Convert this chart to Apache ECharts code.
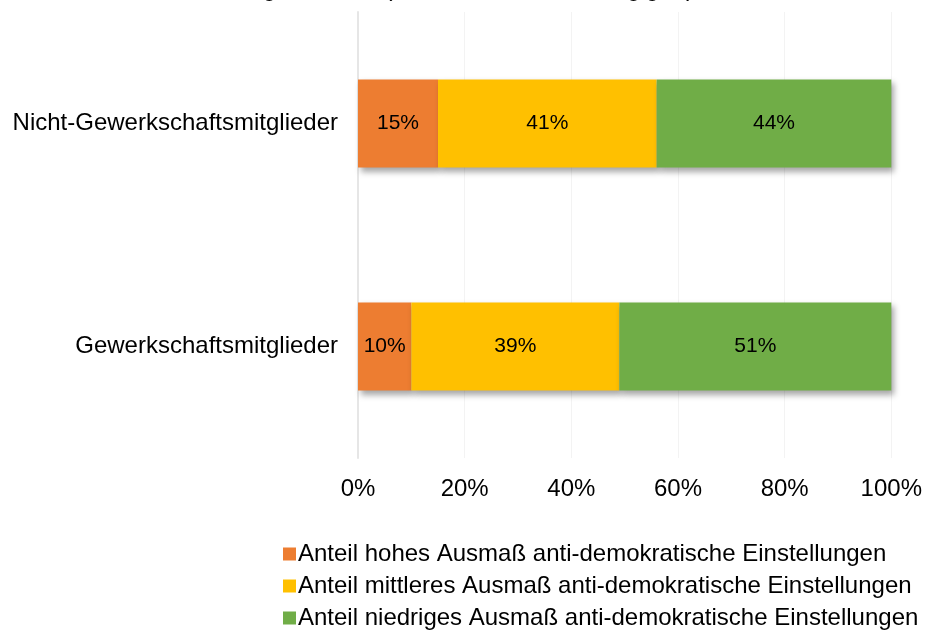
<!DOCTYPE html>
<html>
<head>
<meta charset="utf-8">
<script src="https://cdn.jsdelivr.net/npm/echarts@6/dist/echarts.min.js"></script>
<style>
  html, body { margin: 0; padding: 0; background: #fff; }
  #chart { width: 925px; height: 633px; }
</style>
</head>
<body>
<div id="chart"></div>
<script>
const categories = ["Gewerkschaftsmitglieder", "Nicht-Gewerkschaftsmitglieder"];
const seriesNames = [
  "Anteil hohes Ausmaß anti-demokratische Einstellungen",
  "Anteil mittleres Ausmaß anti-demokratische Einstellungen",
  "Anteil niedriges Ausmaß anti-demokratische Einstellungen"
];
const hohes = [10, 15];
const mittleres = [39, 41];
const niedriges = [51, 44];
const colors = ["#ED7D31", "#FFC000", "#70AD47"];
const font = "Liberation Sans, Arial, sans-serif";

const chart = echarts.init(document.getElementById("chart"));

const barStyle = {
  shadowColor: "rgba(0,0,0,0.35)",
  shadowBlur: 6,
  shadowOffsetX: 3,
  shadowOffsetY: 4
};

function makeSeries(name, data, i) {
  return {
    name: name,
    type: "bar",
    stack: "total",
    data: data,
    barWidth: "39.5%",
    itemStyle: Object.assign({ color: colors[i] }, barStyle),
    label: {
      show: true,
      position: "inside",
      formatter: "{c}%",
      color: "#000",
      fontSize: 21,
      fontFamily: font
    },
    emphasis: { disabled: true }
  };
}

chart.setOption({
  animation: false,
  title: {
    // only the bottom of the title's last line is visible in the picture
    text: "Anti-demokratische Einstellungen nach Gewerkschafts-\nmitgliedschaft (in Prozent, alle Abhängigen)",
    left: "center",
    top: -58,
    textStyle: { fontSize: 24, lineHeight: 28, fontWeight: "normal", color: "#000", fontFamily: font }
  },
  grid: { left: 358, right: 32, top: 12, bottom: 175 },
  xAxis: {
    type: "value",
    min: 0,
    max: 100,
    interval: 20,
    axisLine: { show: false },
    axisTick: { show: false },
    splitLine: { lineStyle: { color: "#f3f3f3", width: 1 } },
    axisLabel: {
      formatter: "{value}%",
      color: "#000",
      fontSize: 24,
      fontFamily: font,
      margin: 19
    }
  },
  yAxis: {
    type: "category",
    data: categories,
    axisLine: { show: true, lineStyle: { color: "#e6e6e6", width: 2 } },
    axisTick: { show: false },
    axisLabel: { color: "#000", fontSize: 24, fontFamily: font, margin: 20 }
  },
  legend: {
    orient: "vertical",
    left: 278,
    top: 537,
    height: 200,
    itemWidth: 13,
    itemHeight: 13,
    itemGap: 8,
    icon: "rect",
    data: seriesNames,
    textStyle: { color: "#000", fontSize: 24, fontFamily: font, padding: [0, 0, 0, -3] }
  },
  series: [
    makeSeries(seriesNames[0], hohes, 0),
    makeSeries(seriesNames[1], mittleres, 1),
    makeSeries(seriesNames[2], niedriges, 2)
  ]
});
</script>
</body>
</html>
